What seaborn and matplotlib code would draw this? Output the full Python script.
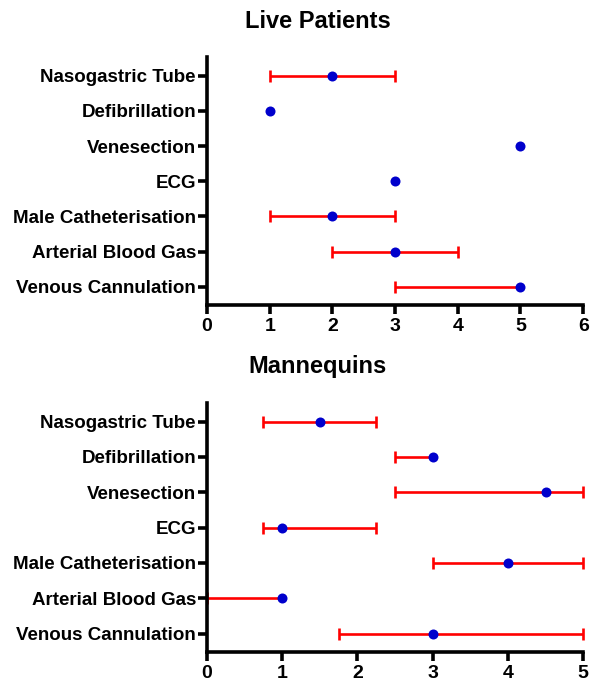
import numpy as np
import pandas as pd
import seaborn as sns
import matplotlib.pyplot as plt

# Procedures (top to bottom)
tasks = ["Nasogastric Tube", "Defibrillation", "Venesection", "ECG",
         "Male Catheterisation", "Arterial Blood Gas", "Venous Cannulation"]

# Live patients: median and range
live_median = [2, 1, 5, 3, 2, 3, 5]
live_low = [1, 1, 5, 3, 1, 2, 3]
live_high = [3, 1, 5, 3, 3, 4, 5]

# Mannequins: median and range
man_median = [1.5, 3, 4.5, 1, 4, 1, 3]
man_low = [0.75, 2.5, 2.5, 0.75, 3, 0, 1.75]
man_high = [2.25, 3, 5, 2.25, 5, 1, 5]

sns.set_theme(style="ticks")
plt.rcParams['font.family'] = ['Liberation Sans', 'DejaVu Sans']

fig = plt.figure(figsize=(6, 6.96), dpi=100)
ax_top = fig.add_axes([0.345, 0.5618, 0.627, 0.356])
ax_bot = fig.add_axes([0.345, 0.0632, 0.627, 0.358])

RED = "#ff0000"


def draw_panel(ax, median, low, high, title, title_y, xmax):
    df = pd.DataFrame({"task": tasks, "median": median, "low": low, "high": high})
    df["pos"] = np.arange(len(df))
    rng = df[df["high"] > df["low"]]
    # range lines without caps
    ax.errorbar(rng["median"], rng["pos"],
                xerr=[rng["median"] - rng["low"], rng["high"] - rng["median"]],
                fmt="none", ecolor=RED, elinewidth=1.9, capsize=0,
                zorder=2, clip_on=False)
    # caps only where the end differs from the median
    lo_caps = rng[rng["low"] < rng["median"]]
    hi_caps = rng[rng["high"] > rng["median"]]
    ax.plot(lo_caps["low"], lo_caps["pos"], ls="none", marker="|", ms=9,
            mew=1.9, color=RED, zorder=2, clip_on=False)
    ax.plot(hi_caps["high"], hi_caps["pos"], ls="none", marker="|", ms=9,
            mew=1.9, color=RED, zorder=2, clip_on=False)
    sns.scatterplot(data=df, x="median", y="pos", ax=ax, color="#0000cc",
                    s=52, edgecolor="#0000cc", linewidth=0, zorder=3,
                    clip_on=False, legend=False)
    ax.set_xlim(0, xmax)
    ax.set_ylim(6.52, -0.53)
    ax.set_xticks(range(xmax + 1))
    ax.set_yticks(df["pos"])
    ax.set_yticklabels(df["task"])
    ax.set_xlabel("")
    ax.set_ylabel("")
    fig.text(0.53, title_y, title, ha="center", va="center",
             fontsize=17, fontweight="bold", color="black")
    sns.despine(ax=ax)
    for side in ["left", "bottom"]:
        ax.spines[side].set_linewidth(2.6)
        ax.spines[side].set_color("black")
    ax.tick_params(axis="both", width=2.6, length=6.5, direction="out",
                   color="black", labelcolor="black", pad=1.5)
    ax.tick_params(axis="y", labelsize=13.5)
    ax.tick_params(axis="x", labelsize=14, pad=3)
    for lab in ax.get_xticklabels() + ax.get_yticklabels():
        lab.set_fontweight("bold")


draw_panel(ax_top, live_median, live_low, live_high, "Live Patients", 1 - 22 / 696, 6)
draw_panel(ax_bot, man_median, man_low, man_high, "Mannequins", 1 - 366 / 696, 5)

fig.savefig("out.png", dpi=100, facecolor="white")
